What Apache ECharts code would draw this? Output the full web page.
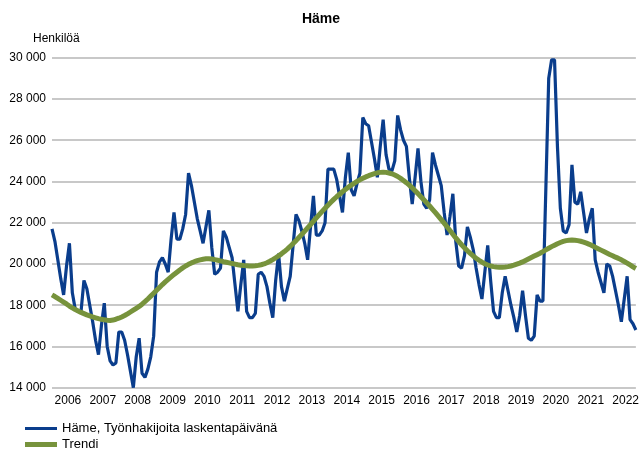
<!DOCTYPE html>
<html>
<head>
<meta charset="utf-8">
<script src="https://cdn.jsdelivr.net/npm/echarts@6/dist/echarts.min.js"></script>
<style>
html,body{margin:0;padding:0;background:#fff;}
#chart{width:642px;height:450px;}
</style>
</head>
<body>
<div id="chart"></div>
<script>
// Monthly data, January 2006 onwards
var startYear = 2006;
var seriesNames = ['Häme, Työnhakijoita laskentapäivänä', 'Trendi'];
var yTicks = [14000, 16000, 18000, 20000, 22000, 24000, 26000, 28000, 30000];

var jobSeekers = [
  21700, 21100, 20200, 19300, 18500, 19900, 21000, 18600, 17800, 17700, 17700, 19200,
  18800, 18000, 17200, 16300, 15600, 17000, 18100, 16000, 15300, 15100, 15200, 16700,
  16700, 16300, 15600, 14800, 14000, 15500, 16400, 14700, 14500, 14900, 15500, 16500,
  19600, 20100, 20300, 20000, 19600, 21200, 22500, 21200, 21200, 21700, 22400, 24400,
  23800, 23000, 22200, 21600, 21000, 21800, 22600, 20800, 19500, 19600, 19800, 21600,
  21300, 20800, 20300, 19000, 17700, 19000, 20200, 17700, 17400, 17400, 17600, 19500,
  19600, 19400, 18900, 18100, 17400, 19200, 20500, 18900, 18200, 18800, 19400, 20900,
  22400, 22100, 21600, 21000, 20200, 21800, 23300, 21400, 21400, 21600, 22000, 24600,
  24600, 24600, 24100, 23300, 22500, 24200, 25400, 23600, 23300, 23900, 24400, 27100,
  26800, 26700, 25900, 25100, 24200, 25700, 27000, 25300, 24600, 24500, 25000, 27200,
  26500, 26000, 25700, 24200, 22900, 24200, 25600, 24000, 22900, 22700, 23100, 25400,
  24800, 24300, 23800, 22500, 21400, 22300, 23400, 21100, 19900, 19800, 20400, 21800,
  21300, 20700, 19800, 19000, 18300, 19600, 20900, 19200, 17700, 17400, 17400, 18600,
  19400, 18700, 18000, 17400, 16700, 17500, 18700, 17500, 16400, 16300, 16500, 18500,
  18200, 18200, 23600, 29000, 29900, 29900, 25700, 22700, 21600, 21500, 21900, 24800,
  23000, 22900, 23500, 22500, 21500, 22200, 22700, 20200, 19600, 19100, 18600, 20000,
  19900, 19400, 18700, 18000, 17200, 18300, 19400, 17300, 17100, 16800
];

var trend = [
  18500, 18420, 18330, 18240, 18150, 18060, 17960, 17870, 17790, 17720, 17650, 17590,
  17530, 17480, 17430, 17390, 17350, 17320, 17290, 17270, 17260, 17280, 17320, 17370,
  17430, 17500, 17580, 17670, 17760, 17850, 17940, 18050, 18170, 18300, 18440, 18580,
  18720, 18860, 19000, 19130, 19250, 19370, 19490, 19600, 19710, 19810, 19900, 19980,
  20050, 20110, 20160, 20200, 20230, 20250, 20250, 20240, 20210, 20180, 20150, 20110,
  20080, 20050, 20020, 19990, 19960, 19940, 19920, 19910, 19900, 19900, 19910, 19930,
  19960, 20000, 20060, 20130, 20210, 20300, 20390, 20490, 20600, 20720, 20850, 20990,
  21130, 21280, 21430, 21590, 21750, 21910, 22070, 22230, 22390, 22550, 22700, 22850,
  22990, 23130, 23260, 23380, 23500, 23610, 23720, 23820, 23910, 24000, 24080, 24150,
  24220, 24280, 24330, 24380, 24420, 24440, 24450, 24440, 24410, 24370, 24310, 24240,
  24150, 24050, 23940, 23820, 23690, 23550, 23410, 23260, 23110, 22960, 22810, 22650,
  22490, 22320, 22150, 21980, 21800, 21620, 21440, 21260, 21090, 20930, 20780, 20640,
  20510, 20390, 20280, 20180, 20090, 20010, 19950, 19900, 19870, 19850, 19840, 19840,
  19850, 19870, 19900, 19940, 19990, 20040, 20100, 20170, 20240, 20310, 20380, 20450,
  20520, 20600, 20680, 20760, 20840, 20910, 20980, 21040, 21090, 21130, 21150, 21160,
  21150, 21130, 21100, 21060, 21010, 20950, 20880, 20810, 20740, 20670, 20600, 20530,
  20460, 20400, 20330, 20270, 20200, 20120, 20040, 19950, 19860, 19780
];

var months = [];
for (var i = 0; i < jobSeekers.length; i++) {
  var y = startYear + Math.floor(i / 12);
  var m = (i % 12) + 1;
  months.push(y + '-' + (m < 10 ? '0' + m : m));
}

var FONT = '"Liberation Sans", Arial, sans-serif';
var chart = echarts.init(document.getElementById('chart'), null, {renderer: 'canvas'});

function fmtThousands(v) {
  var s = String(Math.round(v));
  return s.replace(/\B(?=(\d{3})+(?!\d))/g, ' ');
}

var legendBase = {
  orient: 'horizontal',
  left: 20,
  itemWidth: 32,
  icon: 'rect',
  textStyle: {fontFamily: FONT, fontSize: 13, color: '#000'}
};

chart.setOption({
  animation: false,
  backgroundColor: '#ffffff',
  textStyle: {fontFamily: FONT},
  title: {
    text: 'Häme',
    left: 'center',
    top: 7,
    textStyle: {fontFamily: FONT, fontSize: 14, fontWeight: 'bold', color: '#000'}
  },
  graphic: [{
    type: 'text',
    left: 33,
    top: 33,
    style: {text: 'Henkilöä', font: '12px ' + FONT, fill: '#000'}
  }],
  legend: [
    Object.assign({}, legendBase, {top: 417, itemHeight: 3, data: [seriesNames[0]]}),
    Object.assign({}, legendBase, {top: 433, itemHeight: 5, data: [seriesNames[1]]})
  ],
  grid: {left: 52, right: 5, top: 57.7, bottom: 62.3, containLabel: false},
  xAxis: {
    type: 'category',
    data: months,
    boundaryGap: false,
    axisLine: {show: false},
    axisTick: {show: false},
    splitLine: {show: false},
    axisLabel: {
      interval: function (idx) { return idx % 12 === 6; },
      formatter: function (v) { return v.slice(0, 4); },
      margin: 7,
      padding: [0, 3, 0, 0],
      fontFamily: FONT,
      fontSize: 12,
      color: '#000'
    }
  },
  yAxis: {
    type: 'value',
    min: yTicks[0],
    max: yTicks[yTicks.length - 1],
    interval: 2000,
    axisLine: {show: false},
    axisTick: {show: false},
    axisLabel: {
      margin: 6,
      fontFamily: FONT,
      fontSize: 12,
      color: '#000',
      formatter: fmtThousands
    },
    splitLine: {lineStyle: {color: '#c8c8c8', width: 2}}
  },
  series: [
    {
      name: seriesNames[0],
      type: 'line',
      data: jobSeekers,
      symbol: 'none',
      lineStyle: {color: '#0a3d8c', width: 3.2},
      itemStyle: {color: '#0a3d8c'}
    },
    {
      name: seriesNames[1],
      type: 'line',
      data: trend,
      symbol: 'none',
      lineStyle: {color: '#77933c', width: 5},
      itemStyle: {color: '#77933c'}
    }
  ]
});
</script>
</body>
</html>
